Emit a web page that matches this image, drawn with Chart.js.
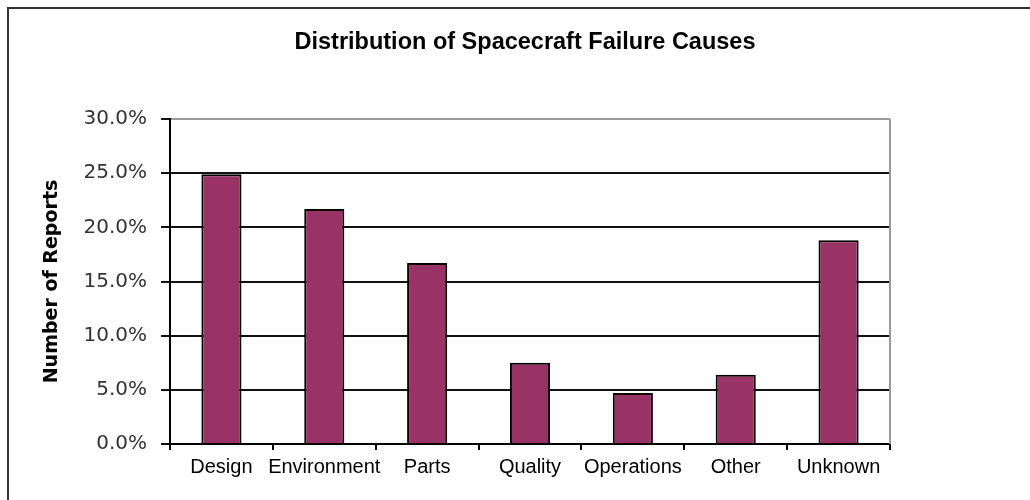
<!DOCTYPE html>
<html>
<head>
<meta charset="utf-8">
<title>Distribution of Spacecraft Failure Causes</title>
<script src="https://cdn.jsdelivr.net/npm/chart.js@4"></script>
<style>
    body { margin: 0; background: #fff; }
    canvas { display: block; }
</style>
</head>
<body>
<canvas id="myChart" width="1030" height="500"></canvas>
<script>
let chartTitle = 'Distribution of Spacecraft Failure Causes';
let categories = ['Design', 'Environment', 'Parts', 'Quality', 'Operations', 'Other', 'Unknown'];
let reports = [24.9, 21.7, 16.7, 7.5, 4.7, 6.4, 18.8];
let yTicks = [0, 5, 10, 15, 20, 25, 30];

// little plugin for the frame lines (left + top of the picture, right edge of the plot)
// and the title, which sits over the plot and not over the whole canvas
let frameLines = {
    id: 'frameLines',
    beforeDraw(chart) {
        let ctx = chart.ctx;
        ctx.save();
        ctx.strokeStyle = '#333';
        ctx.lineWidth = 2;
        ctx.beginPath();
        ctx.moveTo(8, 500);
        ctx.lineTo(8, 8);
        ctx.lineTo(1030, 8);
        ctx.stroke();
        // title text
        ctx.fillStyle = '#000';
        ctx.font = 'bold 23.5px "Liberation Sans", Arial, sans-serif';
        ctx.textAlign = 'center';
        ctx.textBaseline = 'middle';
        ctx.fillText(chartTitle, 525, 43);
        ctx.restore();
    },
    afterDatasetsDraw(chart) {
        let a = chart.chartArea;
        let ctx = chart.ctx;
        ctx.save();
        ctx.strokeStyle = '#999';
        ctx.lineWidth = 2;
        ctx.beginPath();
        ctx.moveTo(a.right, a.top);
        ctx.lineTo(a.right, a.bottom);
        ctx.stroke();
        ctx.restore();
    }
};

let ctx = document.getElementById('myChart').getContext('2d');
let xchart = new Chart(ctx, {
    type: 'bar',
    data: {
        labels: categories,
        datasets: [{
            label: 'Number of Reports',
            data: reports,
            backgroundColor: '#993366',
            borderColor: '#000',
            borderWidth: 2,
            barPercentage: 0.39,
            categoryPercentage: 1
        }]
    },
    options: {
        responsive: false,
        animation: false,
        layout: { padding: { left: 20, right: 140, top: 119, bottom: 0 } },
        plugins: {
            legend: { display: false },
            tooltip: { enabled: false },
            title: { display: false }
        },
        scales: {
            x: {
                grid: {
                    display: true,
                    offset: true,
                    drawOnChartArea: false,
                    drawTicks: true,
                    tickLength: 6,
                    color: '#000',
                    lineWidth: 2
                },
                border: { color: '#000', width: 2 },
                ticks: {
                    color: '#000',
                    padding: 5,
                    autoSkip: false,
                    maxRotation: 0,
                    font: { family: '"Liberation Sans", Arial, sans-serif', size: 20 }
                },
                afterFit(scale) { scale.height = 56; }
            },
            y: {
                min: 0,
                max: 30,
                afterBuildTicks(scale) { scale.ticks = yTicks.map(v => ({ value: v })); },
                grid: {
                    color: c => (c.tick && c.tick.value === 30) ? '#999' : '#111',
                    tickColor: '#111',
                    lineWidth: 2,
                    tickLength: 9
                },
                border: { color: '#000', width: 2 },
                ticks: {
                    color: '#333',
                    padding: 14,
                    font: { family: '"DejaVu Sans", sans-serif', size: 20 },
                    callback: v => v.toFixed(1) + '%'
                },
                title: {
                    display: true,
                    text: 'Number of Reports',
                    color: '#000',
                    font: { family: '"DejaVu Sans", sans-serif', size: 19, weight: 'bold' },
                    padding: { top: 21, bottom: 0 }
                },
                afterFit(scale) { scale.width = 150; }
            }
        }
    },
    plugins: [frameLines]
});
</script>
</body>
</html>
